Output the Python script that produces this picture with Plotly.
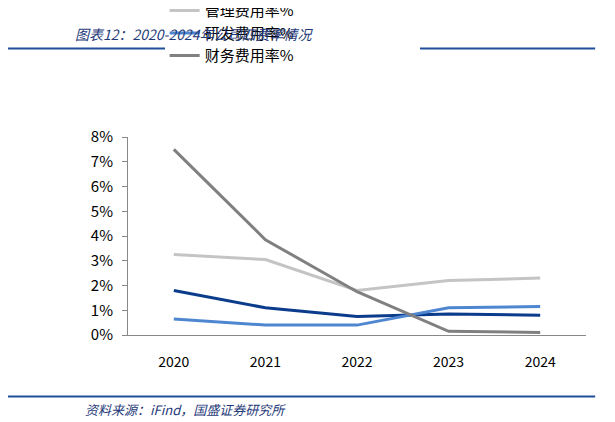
import plotly.graph_objects as go

years = ["2020", "2021", "2022", "2023", "2024"]
sales = [1.8, 1.1, 0.75, 0.85, 0.8]
mgmt = [3.25, 3.05, 1.8, 2.2, 2.3]
rnd = [0.65, 0.4, 0.4, 1.1, 1.15]
fin = [7.5, 3.85, 1.75, 0.15, 0.1]
yticks = [0, 1, 2, 3, 4, 5, 6, 7, 8]

series = [("销售费用率%", sales, "#0B3C8C"), ("管理费用率%", mgmt, "#C4C4C4"),
          ("研发费用率%", rnd, "#4F86D0"), ("财务费用率%", fin, "#808080")]

fig = go.Figure()
for name, vals, col in series:
    fig.add_trace(go.Scatter(x=years, y=vals, name=name, mode="lines",
                             line=dict(color=col, width=3)))

fig.update_layout(
    width=615, height=422, plot_bgcolor="white", paper_bgcolor="white",
    margin=dict(l=120, r=37, t=129, b=95, autoexpand=False),
    font=dict(family="Noto Sans CJK SC", size=15, color="black"),
    legend=dict(orientation="h", x=0.08, y=1.33, xanchor="left", yanchor="bottom",
                entrywidth=210, entrywidthmode="pixels", tracegroupgap=0,
                font=dict(size=15)),
    xaxis=dict(range=[-0.5, 4.5], showline=True, linecolor="#888", ticks="outside",
               ticklen=14, tickcolor="rgba(0,0,0,0)", tickfont=dict(size=14)),
    yaxis=dict(range=[0, 8], tickvals=yticks, ticktext=[f"{v}%" for v in yticks],
               showgrid=False, showline=True, linecolor="#888", ticks="outside",
               ticklen=5, tickcolor="#888", ticklabelstandoff=6, tickfont=dict(size=15)),
    shapes=[
        dict(type="line", xref="paper", yref="paper", x0=-120/458, x1=1.02, y0=1.447, y1=1.447,
             line=dict(color="#1F4E9A", width=2)),
        dict(type="line", xref="paper", yref="paper", x0=-120/458, x1=1.02, y0=-0.31, y1=-0.31,
             line=dict(color="#1F4E9A", width=2)),
    ],
    annotations=[
        dict(text="<i>图表12：2020-2024年公司四费率情况</i>", xref="paper", yref="paper",
             x=-55/458, y=1.52, xanchor="left", yanchor="middle", showarrow=False,
             font=dict(size=14, color="#1F3A7A", family="Noto Sans CJK SC")),
        dict(text="<i>资料来源：iFind，国盛证券研究所</i>", xref="paper", yref="paper",
             x=-45/458, y=-0.375, xanchor="left", yanchor="middle", showarrow=False,
             font=dict(size=13, color="#1F3A7A")),
    ],
)
fig.write_html("out.html")
